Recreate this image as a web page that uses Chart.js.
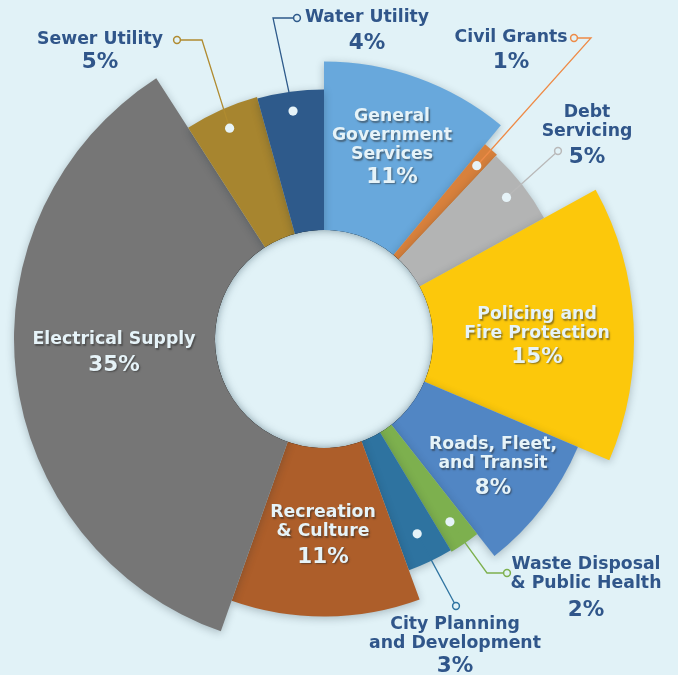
<!DOCTYPE html>
<html>
<head>
<meta charset="utf-8">
<script src="https://cdn.jsdelivr.net/npm/chart.js@4.4.1/dist/chart.umd.min.js"></script>
<style>
  html, body { margin: 0; padding: 0; background: #e1f2f7; }
  canvas { display: block; }
</style>
</head>
<body>
<canvas id="budget" width="678" height="675"></canvas>
<script>
// slices, clockwise from 12 o'clock
const categories = [
    ['General', 'Government', 'Services'],
    ['Civil Grants'],
    ['Debt', 'Servicing'],
    ['Policing and', 'Fire Protection'],
    ['Roads, Fleet,', 'and Transit'],
    ['Waste Disposal', '& Public Health'],
    ['City Planning', 'and Development'],
    ['Recreation', '& Culture'],
    ['Electrical Supply'],
    ['Sewer Utility'],
    ['Water Utility']
];
const shares = [11, 1, 5, 14.4, 8, 2, 3, 11, 35.5, 4.8, 4.3];
const shareLabels = ['11%', '1%', '5%', '15%', '8%', '2%', '3%', '11%', '35%', '5%', '4%'];
// outer reach of each slice (relative, largest = 100)
const ringDepth = [89.5, 81.5, 81, 100, 89, 80, 79.5, 89.5, 100, 81, 80.5];

const colors = ['#68a8dc', '#d8813c', '#b3b4b4', '#fcc80b', '#5186c4', '#7db04e',
    '#2e73a0', '#ad5e2a', '#767676', '#a7852f', '#2e5a8b'];
const leaderColors = ['', '#ee8b47', '#b9b9b9', '', '', '#7db04e',
    '#2e73a0', '', '', '#b08b30', '#2e5a8b'];

const bg = '#e1f2f7';
const navy = '#30568a';
const light = '#e6f3f8';

// where each slice's text goes
const labelLayout = {
    0: { x: 392, y: 117, pctY: 177, inside: true },
    3: { x: 537, y: 315, pctY: 357, inside: true },
    4: { x: 493, y: 445, pctY: 488, inside: true },
    7: { x: 323, y: 513, pctY: 557, inside: true },
    8: { x: 114, y: 340, pctY: 365, inside: true },
    1: { x: 511, y: 38, pctY: 62, dot: 231, path: [[591, 38], [574, 38]] },
    2: { x: 587, y: 113, pctY: 157, dot: 231, path: [[558, 151]] },
    5: { x: 586, y: 565, pctY: 610, dot: 222, path: [[487, 573], [507, 573]] },
    6: { x: 455, y: 625, pctY: 666, dot: 216, path: [[456, 606]] },
    9: { x: 100, y: 40, pctY: 62, dot: 231, path: [[202, 40], [177, 40]] },
    10: { x: 367, y: 18, pctY: 43, dot: 230, path: [[273, 18], [297, 18]] }
};

const sliceShadow = {
    id: 'sliceShadow',
    beforeDatasetsDraw(chart) {
        const ctx = chart.ctx;
        ctx.save();
        ctx.shadowColor = 'rgba(20, 40, 50, 0.28)';
        ctx.shadowBlur = 9;
        ctx.shadowOffsetY = 2;
    },
    afterDatasetsDraw(chart) {
        chart.ctx.restore();
    }
};

const holeAndLabels = {
    id: 'holeAndLabels',
    afterDatasetsDraw(chart) {
        const ctx = chart.ctx;
        const r = chart.scales.r;
        const cx = r.xCenter, cy = r.yCenter;
        const hole = r.drawingArea * 0.352;

        // centre hole with a soft inner shadow
        ctx.save();
        ctx.beginPath();
        ctx.arc(cx, cy, hole, 0, Math.PI * 2);
        ctx.clip();
        ctx.fillStyle = bg;
        ctx.fill();
        ctx.beginPath();
        ctx.arc(cx, cy, hole + 20, 0, Math.PI * 2);
        ctx.lineWidth = 40;
        ctx.strokeStyle = '#000';
        ctx.shadowColor = 'rgba(30, 60, 75, 0.5)';
        ctx.shadowBlur = 8;
        ctx.stroke();
        ctx.restore();

        const arcs = chart.getDatasetMeta(0).data;
        ctx.save();
        ctx.textAlign = 'center';
        ctx.textBaseline = 'middle';

        Object.keys(labelLayout).forEach(k => {
            const i = +k;
            const L = labelLayout[i];
            const lines = categories[i];

            if (L.path) {
                const a = arcs[i];
                const mid = (a.startAngle + a.endAngle) / 2;
                const dx = cx + Math.cos(mid) * L.dot;
                const dy = cy + Math.sin(mid) * L.dot;
                const pts = [[dx, dy]].concat(L.path);
                ctx.beginPath();
                ctx.moveTo(pts[0][0], pts[0][1]);
                for (let p = 1; p < pts.length; p++) ctx.lineTo(pts[p][0], pts[p][1]);
                ctx.strokeStyle = leaderColors[i];
                ctx.lineWidth = 1.3;
                ctx.stroke();
                // end ring
                const end = pts[pts.length - 1];
                ctx.beginPath();
                ctx.arc(end[0], end[1], 3.4, 0, Math.PI * 2);
                ctx.fillStyle = bg;
                ctx.fill();
                ctx.lineWidth = 1.5;
                ctx.stroke();
                // dot on the slice
                ctx.beginPath();
                ctx.arc(dx, dy, 4.6, 0, Math.PI * 2);
                ctx.fillStyle = light;
                ctx.fill();
            }

            ctx.save();
            if (L.inside) {
                ctx.fillStyle = light;
                ctx.shadowColor = 'rgba(40, 40, 40, 0.5)';
                ctx.shadowBlur = 1.5;
                ctx.shadowOffsetX = 1.3;
                ctx.shadowOffsetY = 1.7;
            } else {
                ctx.fillStyle = navy;
            }
            ctx.font = 'bold 17.3px "DejaVu Sans"';
            lines.forEach((t, n) => ctx.fillText(t, L.x, L.y + n * 19));
            ctx.font = 'bold 21.5px "DejaVu Sans"';
            ctx.fillText(shareLabels[i], L.x, L.pctY);
            ctx.restore();
        });
        ctx.restore();
    }
};

new Chart(document.getElementById('budget').getContext('2d'), {
    type: 'polarArea',
    data: {
        labels: categories.map(c => c.join(' ')),
        datasets: [{
            data: ringDepth,
            backgroundColor: colors,
            borderWidth: 0,
            angle: ctx => shares[ctx.dataIndex] * 3.6,
            clip: false
        }]
    },
    options: {
        responsive: false,
        animation: false,
        layout: {
            padding: { left: 14, right: 44, top: 29, bottom: 26 }
        },
        plugins: {
            legend: { display: false },
            tooltip: { enabled: false }
        },
        scales: {
            r: {
                display: false,
                min: 0,
                max: 100,
                startAngle: 0,
                ticks: { display: false }
            }
        }
    },
    plugins: [sliceShadow, holeAndLabels]
});
</script>
</body>
</html>
